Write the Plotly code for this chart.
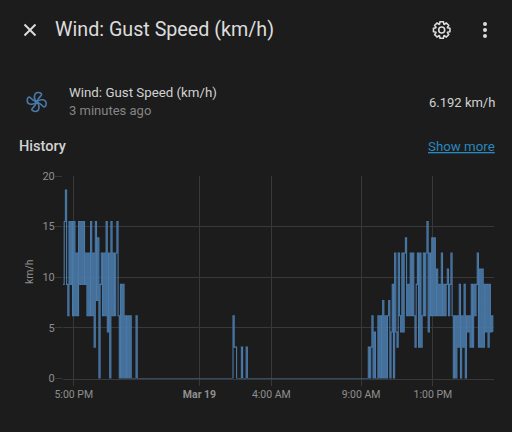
import math
import pandas as pd
import plotly.graph_objects as go

# km/h readings, one every 4 minutes from 16:24 on Mar 18
evening_gust = [9.3, 15.5, 18.6, 9.3, 6.2, 15.5, 9.3, 15.5, 6.2, 15.5, 6.2, 12.4, 6.2, 15.5, 9.3, 15.5,
                9.3, 15.5, 9.3, 12.4, 6.2, 12.4, 6.2, 15.5, 6.2, 12.4, 3.1, 15.5, 7.7, 13.9, 0, 9.3,
                12.4, 6.2, 12.4, 6.2, 15.5, 4.6, 12.4, 0, 15.5, 6.2, 12.4, 6.2, 12.4, 15.5, 6.2, 0,
                9.3, 0, 9.3, 0, 6.2, 0, 6.2, 0, 6.2, 0, 0, 0, 0, 6.2, 0]

# the quiet night, only the changes
night_times = ["2024-03-18 21:00", "2024-03-19 01:52", "2024-03-19 01:56", "2024-03-19 02:00",
               "2024-03-19 02:04", "2024-03-19 02:08", "2024-03-19 02:20", "2024-03-19 02:24",
               "2024-03-19 02:36", "2024-03-19 02:40", "2024-03-19 09:20"]
night_gust = [0, 6.2, 3.1, 3.1, 0, 0, 3.1, 0, 3.1, 0, 0]

# km/h readings, one every 4 minutes from 09:24 on Mar 19
morning_gust = [3.1, 0, 3.1, 6.2, 0, 4.6, 0, 0, 6.2, 0, 6.2, 0, 7.7, 0, 6.2, 0, 6.2, 7.7, 0, 4.6, 9.3, 0,
                12.4, 4.6, 3.1, 12.4, 6.2, 4.6, 12.4, 4.6, 12.4, 13.9, 6.2, 9.3, 6.2, 12.4, 6.2, 12.4,
                6.2, 3.1, 9.3, 12.4, 3.1, 12.4, 3.1, 6.2, 12.4, 6.2, 12.4, 15.5, 4.6, 12.4, 6.2, 13.9,
                6.2, 13.9, 6.2, 10.8, 6.2, 9.3, 6.2, 12.4, 6.2, 9.3, 6.2, 9.3, 10.8, 6.2, 9.3, 12.4,
                6.2, 0, 6.2, 0, 6.2, 3.1, 9.3, 0, 6.2, 3.1, 9.3, 0, 6.2, 4.6, 6.2, 3.1, 9.3, 3.1, 9.3,
                6.2, 9.3, 12.4, 3.1, 10.8, 3.1, 10.8, 3.1, 9.3, 4.6, 9.3, 3.1, 9.3, 4.6, 6.2, 4.6]

x_tick_times = ["2024-03-18 17:00", "2024-03-19 00:00", "2024-03-19 04:00", "2024-03-19 09:00", "2024-03-19 13:00"]
x_tick_labels = ["5:00 PM", "<b>Mar 19</b>", "4:00 AM", "9:00 AM", "1:00 PM"]
y_ticks = [0, 5, 10, 15, 20]

BG = "#1c1c1c"
BLUE = "#4a7aa9"
TICK = "#8f8f8f"
GRID = "#383838"
FONT = "Roboto"
W, H = 512, 432

evening_times = pd.date_range("2024-03-18 16:24", periods=len(evening_gust), freq="4min")
morning_times = pd.date_range("2024-03-19 09:24", periods=len(morning_gust), freq="4min")
times = list(evening_times) + list(pd.to_datetime(night_times)) + list(morning_times)
gust = evening_gust + night_gust + morning_gust

fig = go.Figure()
fig.add_trace(go.Scatter(x=times, y=gust, mode="lines", line=dict(color=BLUE, width=1.1, shape="hv"),
                         showlegend=False, hoverinfo="skip"))

fig.update_layout(
    width=W, height=H, margin=dict(l=0, r=0, t=0, b=0, pad=0),
    paper_bgcolor=BG, plot_bgcolor=BG, showlegend=False,
    font=dict(family=FONT, color=TICK),
    xaxis=dict(domain=[63 / W, 494 / W], range=["2024-03-18 16:24", "2024-03-19 16:24"], automargin=False,
               tickmode="array", tickvals=x_tick_times, ticktext=x_tick_labels,
               tickfont=dict(size=10.5, color=TICK), ticks="outside", ticklen=6, tickcolor=GRID,
               showgrid=True, gridcolor=GRID, gridwidth=1, showline=True, linecolor=GRID, zeroline=False),
    yaxis=dict(domain=[1 - 378.5 / H, 1 - 176 / H], range=[0, 20], automargin=False,
               tickmode="array", tickvals=y_ticks, ticktext=[str(v) for v in y_ticks],
               tickfont=dict(size=11, color=TICK), ticks="outside", ticklen=7, tickcolor=GRID,
               ticklabelstandoff=-2,
               showgrid=True, gridcolor=GRID, gridwidth=1, zeroline=False),
)


# the dialog header is placed in page pixels
def px(x):
    return x / W


def py(y):
    return 1 - y / H


def label(text, x, y, size, color, anchor="left", weight=None, angle=0):
    fig.add_annotation(text=text, x=px(x), y=py(y), xref="paper", yref="paper", xanchor=anchor, yanchor="middle",
                       showarrow=False, textangle=angle, borderpad=0, borderwidth=0,
                       font=dict(family=FONT, size=size, color=color, weight=weight))


label("km/h", 29, 272, 10.5, TICK, anchor="center", angle=-90)
label("Wind: Gust Speed (km/h)", 55, 30, 19.7, "#dcdcdc")
label("Wind: Gust Speed (km/h)", 69, 92.5, 13.3, "#d2d2d2")
label("3 minutes ago", 69, 111, 13, "#858585")
label("6.192 km/h", 494.5, 102, 13, "#d2d2d2", anchor="right")
label("History", 19, 146, 14.6, "#d2d2d2", weight=500)
label("<u>Show more</u>", 495, 146, 13.3, "#2888bf", anchor="right")


def icon(points, color, width, closed=False):
    path = "M" + " L".join(f"{px(x):.5f} {py(y):.5f}" for x, y in points) + (" Z" if closed else "")
    fig.add_shape(type="path", path=path, xref="paper", yref="paper", layer="above",
                  line=dict(color=color, width=width))


def circle(cx, cy, r, line=None, fill=None):
    fig.add_shape(type="circle", x0=px(cx - r), x1=px(cx + r), y0=py(cy + r), y1=py(cy - r),
                  xref="paper", yref="paper", fillcolor=fill,
                  line=dict(color=line, width=1.6) if line else dict(width=0))


# close button
icon([(24.5, 24.5), (35.5, 35.5)], "#dcdcdc", 2)
icon([(35.5, 24.5), (24.5, 35.5)], "#dcdcdc", 2)

# three dots
for cy in (24, 30, 36):
    circle(485, cy, 2, fill="#dcdcdc")

# settings gear
teeth = []
for k in range(8):
    mid = k * math.pi / 4
    for da, r in ((-0.36, 6.3), (-0.2, 8.4), (0.2, 8.4), (0.36, 6.3)):
        teeth.append((441.7 + r * math.sin(mid + da), 30 - r * math.cos(mid + da)))
icon(teeth, "#dcdcdc", 1.6, closed=True)
circle(441.7, 30, 3, line="#dcdcdc")

# fan icon of the entity, one swirled blade turned four times
blade = [(0, 0), (-3.5, -3), (-3, -9.5), (1.5, -9.5), (4.5, -9.5), (5.5, -7.5), (4.5, -6.5), (3.5, -5.5), (1.5, -4), (0, 0)]
for k in range(4):
    c, s = math.cos(k * math.pi / 2), math.sin(k * math.pi / 2)
    pts = [(px(36.7 + bx * c - by * s), py(102 + bx * s + by * c)) for bx, by in blade]
    path = f"M{pts[0][0]:.5f} {pts[0][1]:.5f}"
    for i in range(1, len(pts), 3):
        path += " C" + " ".join(f"{a:.5f} {b:.5f}" for a, b in pts[i:i + 3])
    fig.add_shape(type="path", path=path, xref="paper", yref="paper", layer="above",
                  line=dict(color=BLUE, width=1.6))

fig.write_html("out.html", config={"displayModeBar": False},
               post_script="document.body.style.margin='0';document.body.style.background='%s'" % BG)
